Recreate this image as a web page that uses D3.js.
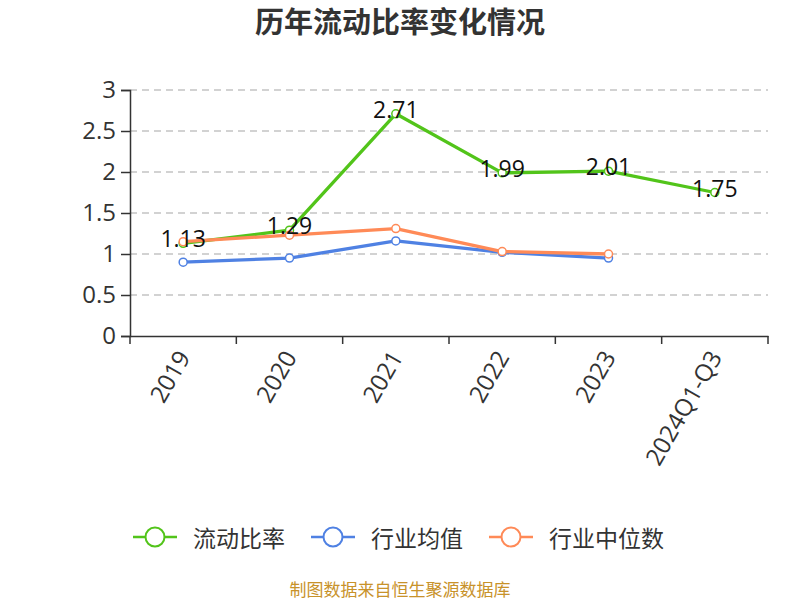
<!DOCTYPE html>
<html><head><meta charset="utf-8">
<script src="https://cdn.jsdelivr.net/npm/d3@7/dist/d3.min.js"></script>
<style>body{margin:0;background:#fff;}svg{display:block;font-family:"Noto Sans CJK SC","Noto Sans",sans-serif;}</style>
</head><body>
<svg id="c" width="800" height="600"></svg>
<script>
const categories = ["2019","2020","2021","2022","2023","2024Q1-Q3"];
const currentRatio = [1.13,1.29,2.71,1.99,2.01,1.75];
const industryMean = [0.90,0.95,1.16,1.02,0.95,null];
const industryMedian = [1.15,1.23,1.31,1.03,1.00,null];
const yTicks = [0,0.5,1,1.5,2,2.5,3];
const seriesNames = ["流动比率","行业均值","行业中位数"];
const colors = ["#52c41a","#4f81e3","#ff8a57"];

const svg = d3.select("#c");
const L=130,R=768,T=90,B=336;
const numFont = "'Open Sans','Noto Sans',sans-serif";
const x = d3.scaleBand().domain(categories).range([L,R]);
const y = d3.scaleLinear().domain([0,3]).range([B,T]);

svg.append("text").attr("x",400).attr("y",33).attr("text-anchor","middle")
  .attr("font-size",29).attr("font-weight","bold").attr("fill","#333").text("历年流动比率变化情况");

// grid
svg.append("g").selectAll("line").data(yTicks.filter(d=>d>0)).join("line")
  .attr("x1",L).attr("x2",R).attr("y1",d=>y(d)).attr("y2",d=>y(d))
  .attr("stroke","#c4c4c4").attr("stroke-dasharray","7,5").attr("stroke-width",1.3);

// y axis
const ya = svg.append("g").attr("transform",`translate(${L},0)`)
  .call(d3.axisLeft(y).tickValues(yTicks).tickSize(9).tickPadding(5).tickFormat(d3.format("~g")));
ya.select(".domain").attr("stroke","#333").attr("stroke-width",1.5);
ya.selectAll(".tick line").attr("stroke","#333").attr("stroke-width",1.5);
ya.selectAll("text").attr("font-size",24).attr("fill","#333").attr("font-family",numFont);

// x axis
const xa = svg.append("g").attr("transform",`translate(0,${B})`)
  .call(d3.axisBottom(x).tickSize(0).tickSizeOuter(0));
xa.select(".domain").attr("stroke","#333").attr("stroke-width",1.5);
xa.selectAll(".tick text").attr("font-size",24).attr("fill","#333")
  .attr("font-family",numFont)
  .attr("text-anchor","end").attr("y",0).attr("dy",0)
  .attr("transform","translate(8,21) rotate(-60)");
const bounds = categories.map(c=>x(c)).concat([R]);
svg.append("g").selectAll("line").data(bounds).join("line")
  .attr("x1",d=>d).attr("x2",d=>d).attr("y1",B).attr("y2",B+8)
  .attr("stroke","#333").attr("stroke-width",1.5);

const cx = c=>x(c)+x.bandwidth()/2;
const allSeries = [currentRatio,industryMean,industryMedian];
allSeries.forEach((s,i)=>{
  const pts = categories.map((c,j)=>({c,v:s[j]})).filter(d=>d.v!=null);
  const line = d3.line().x(d=>cx(d.c)).y(d=>y(d.v));
  svg.append("path").datum(pts).attr("d",line).attr("fill","none")
    .attr("stroke",colors[i]).attr("stroke-width",3.3).attr("stroke-linejoin","round");
  svg.append("g").selectAll("circle").data(pts).join("circle")
    .attr("cx",d=>cx(d.c)).attr("cy",d=>y(d.v)).attr("r",4)
    .attr("fill","#fff").attr("stroke",colors[i]).attr("stroke-width",1.5);
});
// labels for main series
svg.append("g").selectAll("text").data(categories.map((c,j)=>({c,v:currentRatio[j]}))).join("text")
  .attr("x",d=>cx(d.c)).attr("y",d=>y(d.v)-5).attr("text-anchor","middle")
  .attr("dominant-baseline","central").attr("font-size",23).attr("fill","#111")
  .attr("font-family",numFont)
  .text(d=>d3.format(".2f")(d.v));

// legend
const lx = [133,311,489];
seriesNames.forEach((n,i)=>{
  const g = svg.append("g").attr("transform",`translate(${lx[i]},537)`);
  g.append("line").attr("x1",0).attr("x2",44).attr("y1",0).attr("y2",0).attr("stroke",colors[i]).attr("stroke-width",2.5);
  g.append("circle").attr("cx",22).attr("cy",0).attr("r",9.5).attr("fill","#fff").attr("stroke",colors[i]).attr("stroke-width",2);
  g.append("text").attr("x",60).attr("y",0).attr("dominant-baseline","central")
    .attr("font-size",23).attr("fill","#333").text(n);
});

svg.append("text").attr("x",400).attr("y",596).attr("text-anchor","middle")
  .attr("font-size",17).attr("fill","#c8922a").text("制图数据来自恒生聚源数据库");
</script>
</body></html>
